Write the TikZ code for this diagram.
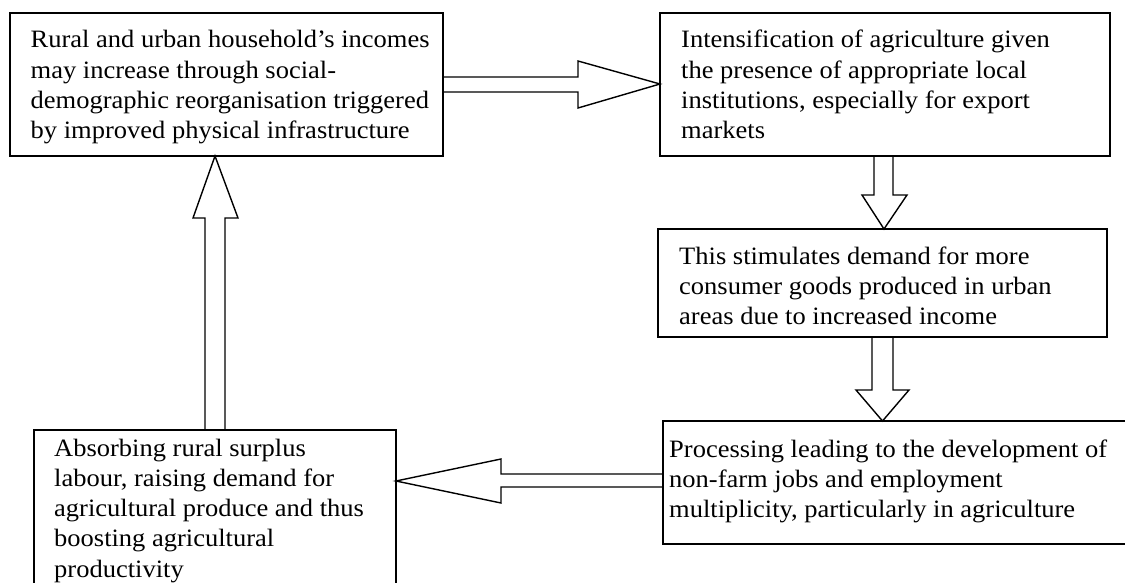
\documentclass[tikz,border=0pt]{standalone}
\usepackage{fontspec}
\setmainfont{Liberation Serif}[FakeStretch=1.06]
\usetikzlibrary{calc}
\begin{document}
\begin{tikzpicture}[x=1pt,y=-1pt,
  box/.style={draw, line width=1.5pt, inner sep=0, outer sep=0, anchor=north west},
  boxtext/.style={anchor=north west, inner sep=0, align=left,
    font=\fontsize{25}{30.2}\selectfont},
  blockarrow/.style={draw, line width=1.4pt, line join=miter}]
\clip (0,0) rectangle (1125,583);

% frames of the five stages
\node[box, minimum width=433pt, minimum height=143pt] (A) at (10,13) {};
\node[box, minimum width=450pt, minimum height=143pt] (B) at (660,13) {};
\node[box, minimum width=449pt, minimum height=108pt] (C) at (658,229) {};
\node[box, minimum width=480pt, minimum height=123pt] (D) at (663,421) {};
\node[box, minimum width=362pt, minimum height=200pt] (E) at (34,430) {};

% texts of the stages (first baseline minus strut height)
\node[boxtext] (tA) at (30.5,26.6) {\strut Rural and urban household’s incomes\\
  may increase through social-\\
  demographic reorganisation triggered\\
  by improved physical infrastructure};
\node[boxtext] (tB) at (681,26.6) {\strut Intensification of agriculture given\\
  the presence of appropriate local\\
  institutions, especially for export\\
  markets};
\node[boxtext] (tC) at (679,242.9) {\strut This stimulates demand for more\\
  consumer goods produced in urban\\
  areas due to increased income};
\node[boxtext] (tD) at (669,435.9) {\strut Processing leading to the development of\\
  non-farm jobs and employment\\
  multiplicity, particularly in agriculture};
\node[boxtext] (tE) at (54,434.9) {\strut Absorbing rural surplus\\
  labour, raising demand for\\
  agricultural produce and thus\\
  boosting agricultural\\
  productivity};

% block arrows between the stages
\draw[blockarrow] (A.east |- 0,77) -- (578,77) -- (578,61) -- (B.west |- 0,84)
  -- (578,108) -- (578,92) -- (A.east |- 0,92);
\draw[blockarrow] (B.south -| 874,0) -- (874,195) -- (862,195) -- (C.north -| 884,0)
  -- (907,195) -- (893,195) -- (B.south -| 893,0);
\draw[blockarrow] (C.south -| 872,0) -- (872,390) -- (856,390) -- (D.north -| 882.5,0)
  -- (909,390) -- (893,390) -- (C.south -| 893,0);
\draw[blockarrow] (D.west |- 0,474) -- (501,474) -- (501,459) -- (E.east |- 0,481)
  -- (501,503) -- (501,487) -- (D.west |- 0,487);
\draw[blockarrow] (E.north -| 205,0) -- (205,218) -- (193,218) -- (A.south -| 215,0)
  -- (238,218) -- (225,218) -- (E.north -| 225,0);
\end{tikzpicture}
\end{document}
